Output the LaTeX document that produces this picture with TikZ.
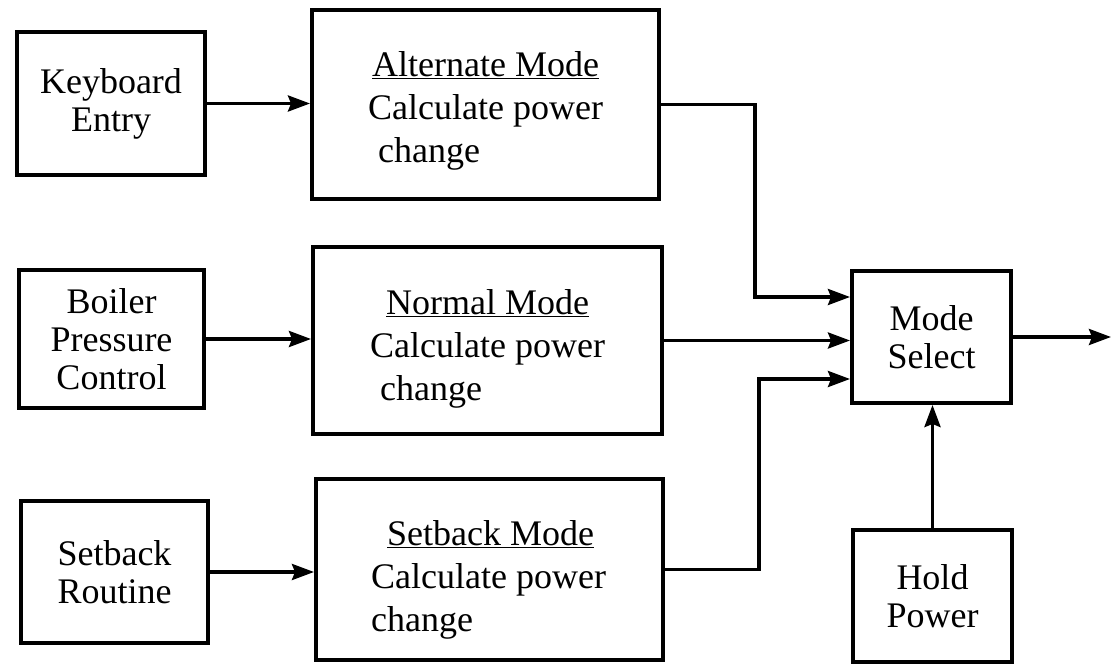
\documentclass[tikz,border=0pt]{standalone}
\usepackage{fontspec}
\setmainfont{Liberation Serif}
\usetikzlibrary{arrows.meta,calc}
\begin{document}
\begin{tikzpicture}[x=1pt,y=-1pt,
  box/.style={draw, line width=4pt, rectangle, inner sep=0pt, align=center,
              font=\fontsize{36}{38}\selectfont},
  txt/.style={anchor=base west, inner sep=0pt, font=\fontsize{36}{38}\selectfont},
  arr/.style={line width=3.4pt, -{Stealth[length=22pt,width=16pt,inset=3pt]}}]
\useasboundingbox[fill=white] (0,0) rectangle (1112,664);

% left input boxes
\node[box, minimum width=188pt, minimum height=143pt] (kb)   at (111,103.5) {Keyboard\\Entry};
\node[box, minimum width=185pt, minimum height=138pt] (boil) at (111.5,339) {Boiler\\Pressure\\Control};
\node[box, minimum width=187pt, minimum height=142pt] (sbr)  at (114.5,572) {Setback\\Routine};

% mode boxes
\node[box, minimum width=347pt, minimum height=189pt] (alt)  at (485.5,104.5) {};
\node[box, minimum width=349pt, minimum height=187pt] (norm) at (487.5,340.5) {};
\node[box, minimum width=347pt, minimum height=181pt] (sbm)  at (489.5,569.5) {};

\node[txt] (alt1) at (372,76)  {\underline{Alternate Mode}};
\node[txt] (alt2) at (368,119) {Calculate power};
\node[txt] (alt3) at (378,162) {change};

\node[txt] (nor1) at (386,314) {\underline{Normal Mode}};
\node[txt] (nor2) at (370,357) {Calculate power};
\node[txt] (nor3) at (380,400) {change};

\node[txt] (sb1) at (387,545) {\underline{Setback Mode}};
\node[txt] (sb2) at (371,588) {Calculate power};
\node[txt] (sb3) at (371,631) {change};

% right boxes
\node[box, minimum width=159pt, minimum height=132pt] (ms) at (931.5,337) {Mode\\Select};
\node[box, minimum width=159pt, minimum height=132pt] (hp) at (932.5,596) {Hold\\Power};

\coordinate (out) at (1111,337);

% input arrows
\draw[arr] (kb.east)   -- (kb.east -| alt.west);
\draw[arr] (boil.east) -- (boil.east -| norm.west);
\draw[arr] (sbr.east)  -- (sbr.east -| sbm.west);

% to mode select
\draw[arr] (alt.east) -- ++(94,0) |- ($(ms.west)+(0,-40)$);
\draw[arr] (norm.east) -- (norm.east -| ms.west);
\draw[arr] (sbm.east) -- ++(94,0) |- ($(ms.west)+(0,42)$);

\draw[arr] (hp.north) -- (hp.north |- ms.south);
\draw[arr] (ms.east) -- (out);
\end{tikzpicture}
\end{document}
